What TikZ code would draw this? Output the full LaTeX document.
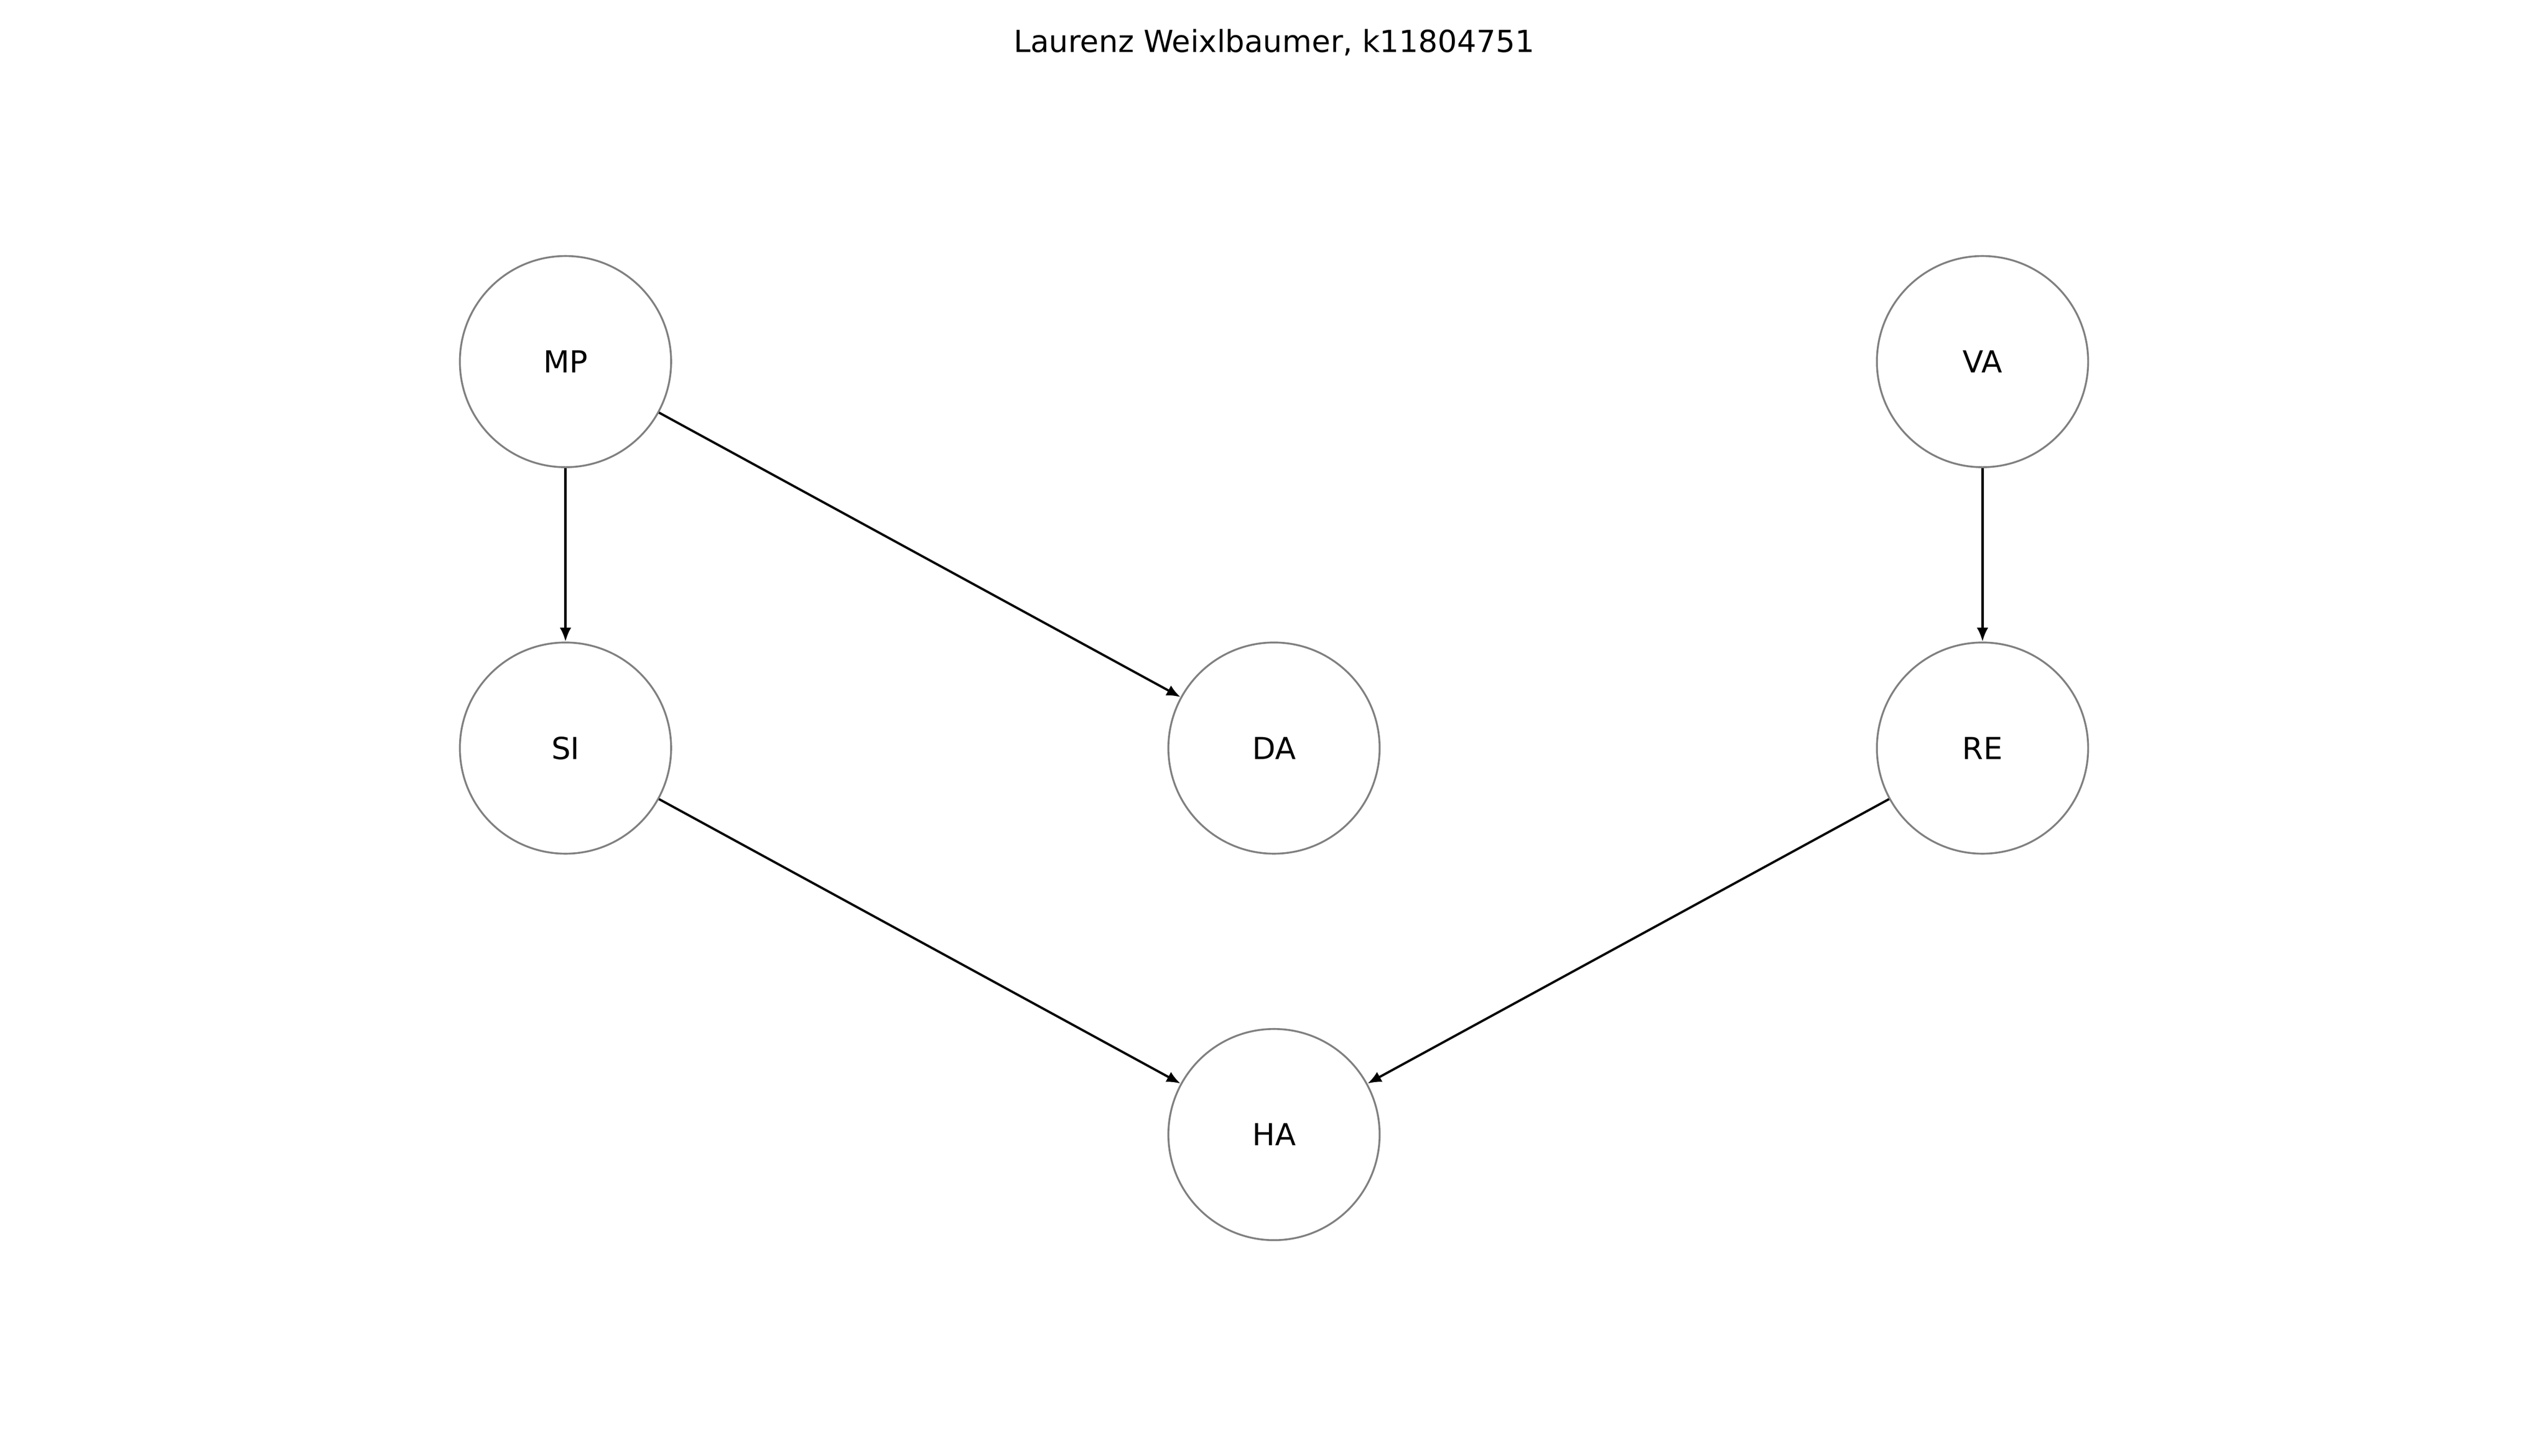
\documentclass[tikz,border=0pt]{standalone}
\usepackage{fontspec}
\setmainfont{DejaVu Sans}
\usetikzlibrary{arrows.meta}
\definecolor{nodegray}{RGB}{128,128,128}

\begin{document}
\begin{tikzpicture}[>={Latex[length=8.5pt,width=7pt]}, x=1pt, y=-1pt,
    var/.style={circle, draw=nodegray, line width=1.15pt, minimum size=130pt, inner sep=0pt,
      font=\fontsize{18.67}{22}\selectfont},
    edge/.style={->, draw=black, line width=1.4pt}]
  \useasboundingbox (0,0) rectangle (1568,896);
  \node[font=\fontsize{18.67}{22}\selectfont] (title) at (784,26) {Laurenz Weixlbaumer, k11804751};

  \node[var] (MP) at (348,222.6) {MP};
  \node[var] (VA) at (1220,222.6) {VA};
  \node[var] (SI) at (348,460.5) {SI};
  \node[var] (DA) at (784,460.5) {DA};
  \node[var] (RE) at (1220,460.5) {RE};
  \node[var] (HA) at (784,698.4) {HA};

  \path[edge] (MP) -- (SI);
  \path[edge] (MP) -- (DA);
  \path[edge] (VA) -- (RE);
  \path[edge] (SI) -- (HA);
  \path[edge] (RE) -- (HA);
\end{tikzpicture}
\end{document}
